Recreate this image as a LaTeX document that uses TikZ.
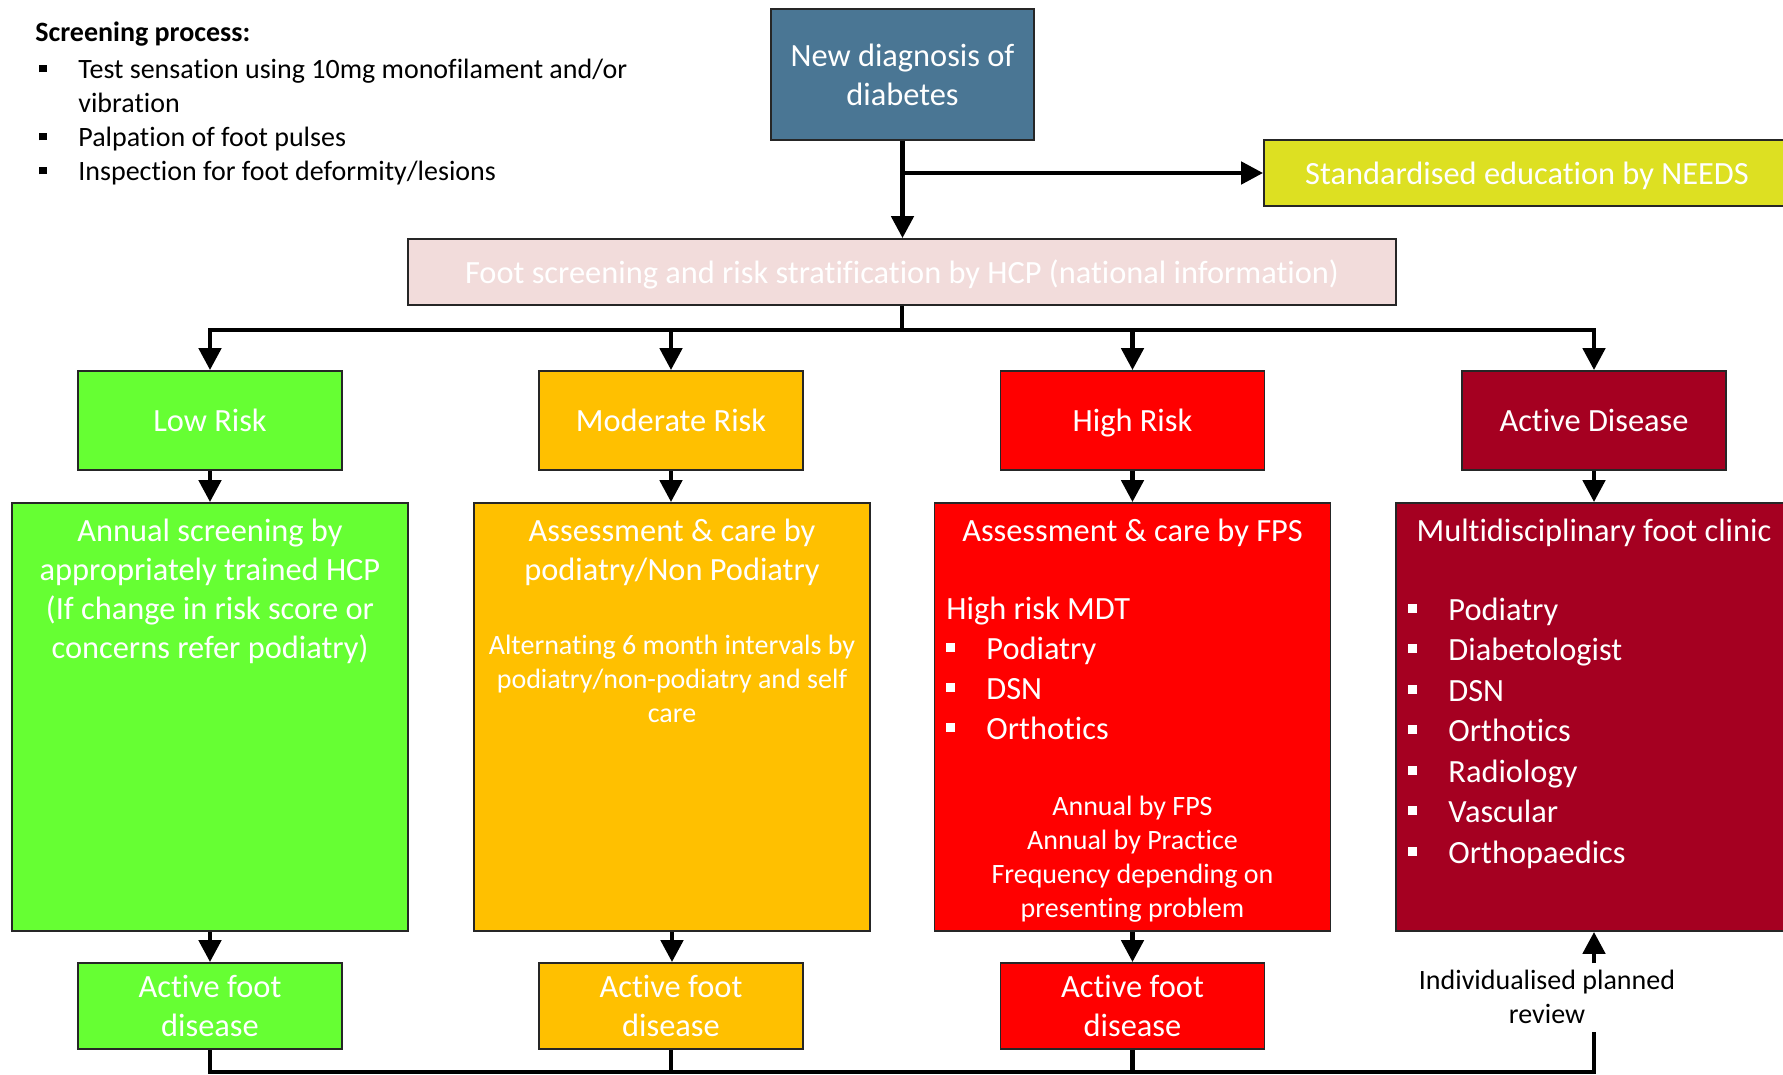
\documentclass[tikz,border=0pt]{standalone}
\usepackage{fontspec}
\setmainfont{Carlito}[Ligatures=NoCommon]
\usetikzlibrary{arrows.meta}

\definecolor{diagblue}{RGB}{74,118,148}
\definecolor{edulime}{RGB}{221,224,34}
\definecolor{screenpink}{RGB}{242,220,219}
\definecolor{lowgreen}{RGB}{102,255,51}
\definecolor{modamber}{RGB}{255,192,0}
\definecolor{highred}{RGB}{255,0,0}
\definecolor{actmaroon}{RGB}{165,0,33}

\newcommand{\bigtxt}{\fontsize{16.2pt}{19.5pt}\selectfont}
\newcommand{\smalltxt}{\fontsize{14pt}{17pt}\selectfont}
\newcommand{\boxbul}{\makebox[20pt][l]{\rule[3.75pt]{4.5pt}{4.5pt}}}
\newcommand{\listbul}{\makebox[19.5pt][l]{\rule[3.3pt]{3.6pt}{3.6pt}}}

\begin{document}
% multi-line text nodes are anchored at the baseline of their last line
\begin{tikzpicture}[x=0.5pt,y=-0.5pt,
  box/.style={draw=black!85, line width=0.9pt, inner sep=0pt, text=white,
              align=center, font=\bigtxt},
  oneline/.style={text height=11.2pt, text depth=0pt},
  riskbox/.style={box, oneline, minimum width=132pt, minimum height=49.5pt},
  carebox/.style={box, minimum width=198pt, minimum height=214pt},
  footbox/.style={box, minimum width=132pt, minimum height=43pt},
  txt/.style={inner sep=0pt, text=white},
  link/.style={line width=2.4pt, line join=miter},
  arr/.style={link, -{Triangle[length=11pt,width=11pt]}}
]
\useasboundingbox (0,0) rectangle (1783,1075);

% screening notes
\node[anchor=base west, inner sep=0pt, font=\smalltxt\bfseries] (scrhead) at (35,42) {Screening process:};
\node[anchor=base west, inner sep=0pt, font=\smalltxt, align=left] (scrlist) at (39,181)
  {\listbul Test sensation using 10mg monofilament and/or\\
   \hspace*{19.5pt}vibration\\
   \listbul Palpation of foot pulses\\
   \listbul Inspection for foot deformity/lesions};

% top of the pathway
\node[box, fill=diagblue, minimum width=131.5pt, minimum height=65.5pt] (diag) at (902.5,74.5)
  {New diagnosis of\\diabetes};
\node[box, oneline, fill=edulime, minimum width=263pt, minimum height=33pt] (edu) at (1527,173)
  {Standardised education by NEEDS};
\node[box, oneline, fill=screenpink, minimum width=494pt, minimum height=33pt] (screen) at (902,272)
  {Foot screening and risk stratification by HCP (national information)};

% risk levels
\node[riskbox, fill=lowgreen]  (low)  at (210,420.5)  {Low Risk};
\node[riskbox, fill=modamber]  (mod)  at (671,420.5)  {Moderate Risk};
\node[riskbox, fill=highred]   (high) at (1132.5,420.5) {High Risk};
\node[riskbox, fill=actmaroon] (act)  at (1594,420.5) {Active Disease};

% care boxes
\node[carebox, fill=lowgreen]  (lowc)  at (210,717)    {};
\node[carebox, fill=modamber]  (modc)  at (672,717)    {};
\node[carebox, fill=highred]   (highc) at (1132.5,717) {};
\node[carebox, fill=actmaroon] (multi) at (1594,717)   {};

\node[txt, anchor=base, align=center, font=\bigtxt] (lowtxt) at (210,658)
  {Annual screening by\\appropriately trained HCP\\(If change in risk score or\\concerns refer podiatry)};

\node[txt, anchor=base, align=center, font=\bigtxt] (modtitle) at (672,580)
  {Assessment \& care by\\podiatry/Non Podiatry};
\node[txt, anchor=base, align=center, font=\smalltxt] (modnote) at (672,722)
  {Alternating 6 month intervals by\\podiatry/non-podiatry and self\\care};

\node[txt, anchor=base, align=center, font=\bigtxt] (hightitle) at (1132.5,541)
  {Assessment \& care by FPS};
\node[txt, anchor=base west, align=left, font=\fontsize{16.2pt}{20pt}\selectfont] (highlist) at (946,739)
  {High risk MDT\\\boxbul Podiatry\\\boxbul DSN\\\boxbul Orthotics};
\node[txt, anchor=base, align=center, font=\smalltxt] (highnote) at (1132.5,917)
  {Annual by FPS\\Annual by Practice\\Frequency depending on\\presenting problem};

\node[txt, anchor=base, align=center, font=\bigtxt] (multititle) at (1594,541)
  {Multidisciplinary foot clinic};
\node[txt, anchor=base west, align=left, font=\fontsize{16.2pt}{20.25pt}\selectfont] (multilist) at (1408,863)
  {\boxbul Podiatry\\\boxbul Diabetologist\\\boxbul DSN\\\boxbul Orthotics\\
   \boxbul Radiology\\\boxbul Vascular\\\boxbul Orthopaedics};

% active foot disease
\node[footbox, fill=lowgreen] (lowa)  at (210,1006)    {Active foot\\disease};
\node[footbox, fill=modamber] (moda)  at (671,1006)    {Active foot\\disease};
\node[footbox, fill=highred]  (higha) at (1132.5,1006) {Active foot\\disease};

\node[inner sep=0pt, anchor=base, align=center, font=\smalltxt] (revtxt) at (1547,1023)
  {Individualised planned\\review};

% connectors
\draw[arr] (diag.south) -- (diag.south |- screen.north);
\coordinate (edubranch) at (diag.south |- edu.west);
\draw[arr] (edubranch) -- (edu.west);

\coordinate (hub) at (902,330);
\draw[link] (screen.south) -- (hub);
\draw[arr] (hub) -| (low.north);
\draw[arr] (hub) -| (mod.north);
\draw[arr] (hub) -| (high.north);
\draw[arr] (hub) -| (act.north);

\draw[arr] (low.south)  -- (lowc.north);
\draw[arr] (mod.south)  -- (mod.south |- modc.north);
\draw[arr] (high.south) -- (highc.north);
\draw[arr] (act.south)  -- (multi.north);

\draw[arr] (lowc.south)  -- (lowa.north);
\draw[arr] (modc.south)  -- (modc.south |- moda.north);
\draw[arr] (highc.south) -- (higha.north);

\coordinate (rvcorner) at (1594,1072);
\coordinate (rvstop) at (1594,1032);
\coordinate (rvstart) at (1594,963);
\draw[link] (lowa.south) |- (rvcorner) -- (rvstop);
\draw[link] (moda.south) -- (moda.south |- rvcorner);
\draw[link] (higha.south) -- (higha.south |- rvcorner);
\draw[arr] (rvstart) -- (multi.south);
\end{tikzpicture}
\end{document}
